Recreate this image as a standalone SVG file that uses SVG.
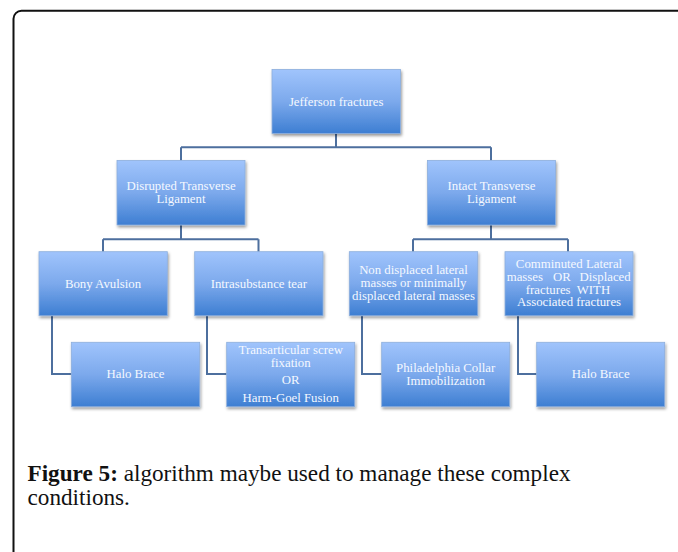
<svg xmlns="http://www.w3.org/2000/svg" width="678" height="552" viewBox="0 0 678 552">
<defs>
<linearGradient id="g" x1="0" y1="0" x2="0" y2="1">
<stop offset="0" stop-color="#A0C4FC"/>
<stop offset="0.5" stop-color="#7CA9EC"/>
<stop offset="1" stop-color="#3D7ED2"/>
</linearGradient>
<filter id="sh" x="-10%" y="-10%" width="125%" height="130%">
<feDropShadow dx="1" dy="2" stdDeviation="1.4" flood-color="#000" flood-opacity="0.4"/>
</filter>
<style>
.box{fill:url(#g);stroke:#8DAEDC;stroke-width:0.8;filter:url(#sh)}
.t{font-family:"Liberation Serif","Times New Roman",serif;font-size:12.8px;fill:#F4F8FF;text-anchor:middle}
.c{fill:none;stroke:#4D6F9E;stroke-width:2}
.cap{font-family:"Liberation Serif","Times New Roman",serif;font-size:23.2px;fill:#111}
</style>
</defs>
<rect x="0" y="0" width="678" height="552" fill="#fff"/>
<rect x="13.5" y="10.8" width="720" height="600" rx="8" fill="none" stroke="#111" stroke-width="2"/>
<g id="connectors">
<path class="c" d="M336,133.5V147.3M181,147.3H491M181,147.3V160.5M491,147.3V160.5"/>
<path class="c" d="M181,225V239.3M103,239.3H258.5M103,239.3V251.7M258.5,239.3V251.7"/>
<path class="c" d="M491,225V239.3M413,239.3H568M413,239.3V251.7M568,239.3V251.7"/>
<path class="c" d="M52,315.7V374H71.5"/>
<path class="c" d="M207,315.7V374H226.7"/>
<path class="c" d="M362,315.7V374H381.7"/>
<path class="c" d="M518,315.7V374H536.7"/>
</g>
<g id="n1"><rect class="box" x="272" y="69.5" width="128.5" height="64"/><text class="t" x="336.2" y="106">Jefferson fractures</text></g>
<g id="n2"><rect class="box" x="117" y="160.5" width="128" height="64.5"/><text class="t" x="181" y="190">Disrupted Transverse</text><text class="t" x="181" y="202.7">Ligament</text></g>
<g id="n3"><rect class="box" x="427.5" y="160.5" width="128" height="64.5"/><text class="t" x="491.5" y="190">Intact Transverse</text><text class="t" x="491.5" y="202.7">Ligament</text></g>
<g id="n4"><rect class="box" x="39" y="251.7" width="128.3" height="64"/><text class="t" x="103" y="287.5">Bony Avulsion</text></g>
<g id="n5"><rect class="box" x="194.7" y="251.7" width="128.3" height="64"/><text class="t" x="258.8" y="287.5">Intrasubstance tear</text></g>
<g id="n6"><rect class="box" x="349.3" y="251.7" width="128.4" height="64"/><text class="t" x="413.5" y="274.3">Non displaced lateral</text><text class="t" x="413.5" y="287">masses or minimally</text><text class="t" x="413.5" y="300">displaced lateral masses</text></g>
<g id="n7"><rect class="box" x="505" y="251.7" width="128" height="64"/><text class="t" x="569" y="268.3">Comminuted Lateral</text><text class="t" x="506.7" y="281" style="text-anchor:start">masses</text><text class="t" x="562" y="281">OR</text><text class="t" x="630.7" y="281" style="text-anchor:end">Displaced</text><text class="t" x="568" y="293.7" xml:space="preserve">fractures  WITH</text><text class="t" x="569" y="306.3">Associated fractures</text></g>
<g id="n8"><rect class="box" x="71.3" y="342.3" width="128.4" height="64.4"/><text class="t" x="135.5" y="378.3">Halo Brace</text></g>
<g id="n9"><rect class="box" x="226.7" y="342.3" width="128" height="64.4"/><text class="t" x="290.7" y="354.4">Transarticular screw</text><text class="t" x="290.7" y="367.3">fixation</text><text class="t" x="290.7" y="384.3">OR</text><text class="t" x="290.7" y="402.3">Harm-Goel Fusion</text></g>
<g id="n10"><rect class="box" x="381.7" y="342.3" width="128" height="64.4"/><text class="t" x="445.7" y="371.6">Philadelphia Collar</text><text class="t" x="445.7" y="384.6">Immobilization</text></g>
<g id="n11"><rect class="box" x="536.7" y="342.3" width="128" height="64.4"/><text class="t" x="600.7" y="378.3">Halo Brace</text></g>
<text class="cap" x="27.5" y="481"><tspan font-weight="bold">Figure 5:</tspan> algorithm maybe used to manage these complex</text>
<text class="cap" x="27.5" y="505">conditions.</text>
</svg>
